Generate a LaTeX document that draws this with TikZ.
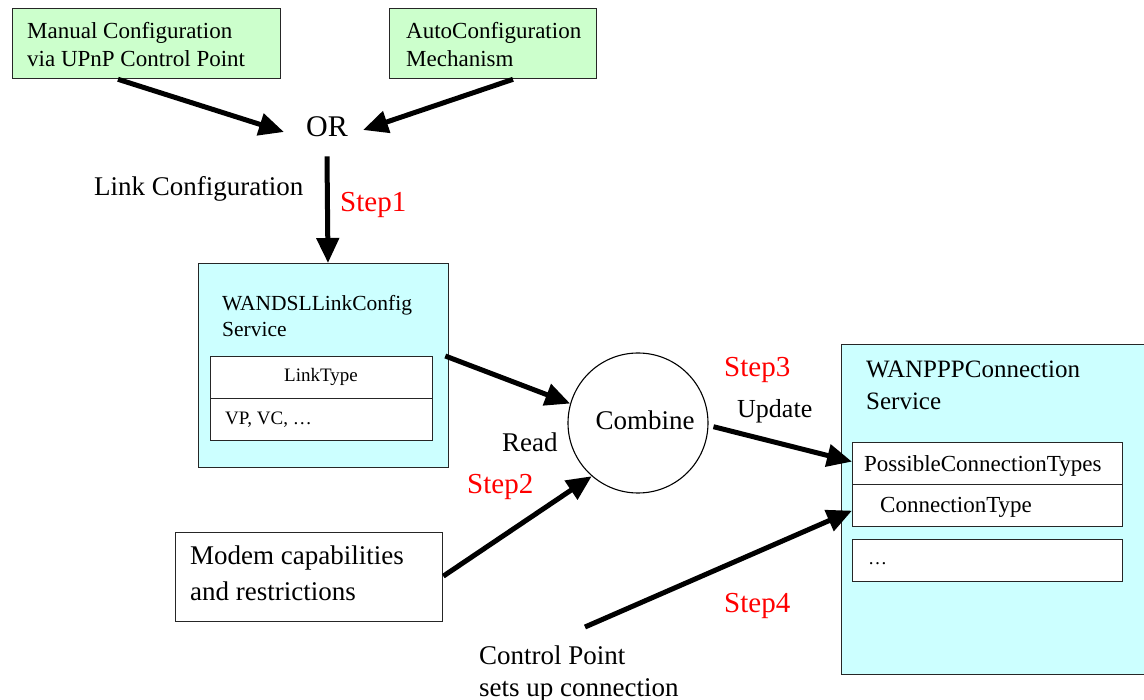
\documentclass[tikz,border=0pt]{standalone}
\usepackage{fontspec}
\setmainfont{Liberation Serif}
\usetikzlibrary{arrows.meta,calc}
\definecolor{boxgreen}{HTML}{CCFFCC}
\definecolor{boxcyan}{HTML}{CCFFFF}
\definecolor{steprd}{HTML}{FF0000}
\begin{document}
\begin{tikzpicture}[x=1pt,y=-1pt,
  box/.style={draw=black!85, line width=1.3pt, anchor=north west, inner sep=0pt},
  gbox/.style={box, fill=boxgreen},
  cbox/.style={box, fill=boxcyan},
  wbox/.style={box, fill=white},
  txt/.style={anchor=base west, inner sep=0pt},
  ctxt/.style={anchor=base, inner sep=0pt},
  steplbl/.style={txt, text=steprd, font=\fontsize{29}{33}\selectfont},
  arr/.style={line width=5pt, -{Triangle[length=25pt,width=22pt]}},
  big/.style={font=\fontsize{27}{32}\selectfont},
  med/.style={font=\fontsize{23}{28}\selectfont},
  sml/.style={font=\fontsize{19}{22}\selectfont}
]
\useasboundingbox (0,0) rectangle (1144,700);

% top boxes
\node[gbox, minimum width=268pt, minimum height=70pt] (manual) at (12,8) {};
\node[txt, med] (manualt1) at (27,39) {Manual Configuration};
\node[txt, med] (manualt2) at (27,67) {via UPnP Control Point};
\node[gbox, minimum width=207pt, minimum height=70pt] (auto) at (389,8) {};
\node[txt, med] (autot1) at (406,39) {AutoConfiguration};
\node[txt, med] (autot2) at (406,67) {Mechanism};

% OR
\node[inner sep=0pt, font=\fontsize{30}{34}\selectfont] (or) at (327,127) {OR};

% labels step 1
\node[txt, big] (linkcfg) at (94,196) {Link Configuration};
\node[steplbl] (step1) at (340,212) {Step1};

% WANDSLLinkConfig service
\node[cbox, minimum width=250pt, minimum height=204pt] (dsl) at (198,263) {};
\node[txt, font=\fontsize{21.5}{24}\selectfont] (dslt1) at (222,311) {WANDSLLinkConfig};
\node[txt, font=\fontsize{21.5}{24}\selectfont] (dslt2) at (222,337) {Service};
\node[wbox, minimum width=222pt, minimum height=42pt] (linktype) at (210,356) {};
\node[ctxt, sml] (linktypet) at (321,382) {LinkType};
\node[wbox, minimum width=222pt, minimum height=42pt] (vpvc) at (210,398) {};
\node[txt, sml] (vpvct) at (225,425) {VP, VC, \ldots};

% modem
\node[wbox, minimum width=267pt, minimum height=89pt] (modem) at (175,532) {};
\node[txt, big] (modemt1) at (190,565) {Modem capabilities};
\node[txt, big] (modemt2) at (190,600) {and restrictions};

% combine
\node[circle, draw=black, line width=1.1pt, minimum size=140pt, inner sep=0pt, fill=white] (combine) at (638,423) {};
\node[ctxt, big] (combinet) at (645,430) {Combine};
\node[txt, big] (read) at (502,452) {Read};
\node[steplbl] (step2) at (467,494) {Step2};
\node[steplbl] (step3) at (724,377) {Step3};
\node[txt, font=\fontsize{26}{30}\selectfont] (update) at (737,418) {Update};

% WANPPPConnection service
\node[cbox, minimum width=330pt, minimum height=330pt] (ppp) at (841,344) {};
\node[txt, font=\fontsize{25}{30}\selectfont] (pppt1) at (866,378) {WANPPPConnection};
\node[txt, font=\fontsize{25}{30}\selectfont] (pppt2) at (866,410) {Service};
\node[wbox, minimum width=270pt, minimum height=42pt] (pct) at (852,442) {};
\node[txt, med] (pctt) at (864,472) {PossibleConnectionTypes};
\node[wbox, minimum width=270pt, minimum height=42pt] (ct) at (852,484) {};
\node[txt, med] (ctt) at (880,513) {ConnectionType};
\node[wbox, minimum width=270pt, minimum height=42pt] (dots) at (852,539) {};
\node[txt, sml] (dotst) at (868,565) {\ldots};

\node[steplbl] (step4) at (724,612) {Step4};
\node[txt, big] (cp1) at (479,664) {Control Point};
\node[txt, big] (cp2) at (479,696) {sets up connection};
\coordinate (cpstart) at (585,627);

% connectors
\draw[arr] ([xshift=106pt]manual.south west) -- ([xshift=-22pt,yshift=-5pt]or.west);
\draw[arr] ([xshift=124pt]auto.south west) -- ([xshift=15pt,yshift=-3pt]or.east);
\draw[arr] ([yshift=-19pt]or.south) -- ([xshift=130pt]dsl.north west);
\draw[arr] ($(dsl.north east)+(-4,93)$) -- (combine.164);
\draw[arr] ([yshift=1pt]modem.east) -- (combine.229);
\draw[arr] ($(combine.-3)+(5,0)$) -- ([yshift=2pt]pct.west);
\draw[arr] (cpstart) -- ([yshift=-5pt]ct.west);
\end{tikzpicture}
\end{document}
